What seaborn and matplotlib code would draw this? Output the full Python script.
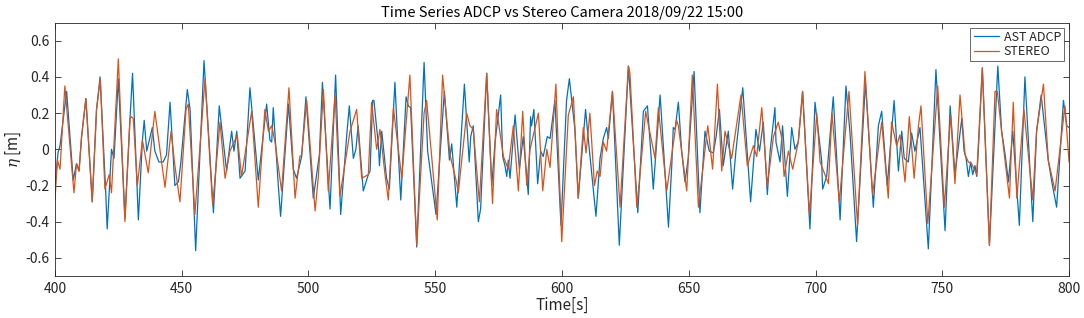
import numpy as np
import pandas as pd
import matplotlib
matplotlib.use("Agg")
import matplotlib.pyplot as plt
import seaborn as sns

# ADCP surface elevation (turning points)
adcp_t = [400.0, 401.2, 402.0, 404.6, 407.2, 408.5, 409.5, 410.5, 412.2, 414.7, 416.4, 417.8,
          420.0, 420.6, 422.3, 423.3, 425.0, 427.6, 429.6, 430.6, 432.9, 434.5, 435.2, 436.2,
          438.4, 439.4, 441.0, 442.7, 444.0, 445.4, 447.3, 448.7, 449.6, 452.2, 453.3, 455.5,
          458.8, 462.5, 464.8, 467.7, 469.7, 470.6, 471.7, 473.0, 475.0, 476.9, 480.2, 483.5,
          484.8, 485.5, 486.1, 488.1, 489.0, 492.1, 494.0, 495.3, 497.3, 499.0, 501.9, 504.3,
          505.5, 508.5, 510.7, 512.7, 515.1, 516.1, 517.7, 518.7, 519.6, 521.6, 523.6, 524.3,
          525.3, 525.8, 527.6, 528.0, 528.9, 530.8, 531.9, 534.1, 535.4, 536.4, 538.5, 539.4,
          540.3, 542.7, 545.6, 547.0, 550.3, 553.6, 555.6, 556.5, 558.5, 561.5, 563.4, 564.0,
          565.0, 567.0, 567.9, 570.3, 572.3, 573.6, 575.8, 576.6, 577.5, 578.2, 578.8, 579.5,
          581.5, 583.2, 584.7, 586.7, 587.6, 588.0, 588.9, 590.4, 591.6, 592.6, 594.2, 595.3,
          597.2, 599.6, 601.8, 602.9, 605.1, 606.4, 607.8, 609.3, 610.0, 613.4, 615.0, 616.3,
          617.6, 618.3, 619.9, 622.6, 626.2, 629.9, 632.1, 633.7, 635.4, 636.0, 638.7, 642.0,
          643.3, 643.9, 644.6, 645.9, 647.2, 648.5, 649.8, 652.1, 654.4, 656.4, 658.1, 659.7,
          660.8, 662.1, 663.6, 665.6, 667.3, 668.6, 671.3, 674.4, 676.5, 677.9, 679.4, 681.0,
          682.1, 684.0, 684.4, 686.0, 687.0, 688.9, 690.6, 691.9, 693.2, 694.9, 697.8, 699.8,
          702.4, 702.8, 704.4, 707.0, 709.7, 712.0, 713.6, 716.2, 719.7, 722.8, 724.8, 726.1,
          728.3, 731.0, 732.7, 734.0, 735.0, 736.6, 737.9, 739.2, 741.2, 744.5, 747.5, 751.1,
          753.1, 755.0, 757.7, 758.6, 759.4, 760.3, 761.2, 762.0, 762.9, 763.6, 764.2, 765.8,
          768.6, 771.9, 773.4, 774.8, 776.1, 777.8, 780.4, 782.6, 785.7, 787.2, 789.0, 791.8,
          793.2, 795.1, 797.8, 799.1, 800.0]
adcp_eta = [-0.20, -0.02, 0.02, 0.32, -0.17, -0.08, -0.12, 0.07, 0.28, -0.29, 0.22, 0.40,
            -0.23, -0.44, 0.00, -0.05, 0.39, -0.38, 0.17, 0.42, -0.39, 0.05, 0.16, -0.01,
            0.12, -0.01, -0.07, -0.07, -0.03, 0.26, -0.20, -0.18, -0.08, 0.33, 0.22, -0.56,
            0.49, -0.35, 0.24, -0.12, 0.10, -0.01, 0.10, -0.16, -0.12, 0.34, -0.17, 0.25,
            0.05, 0.04, 0.23, -0.20, -0.37, 0.25, -0.11, -0.16, -0.04, 0.29, -0.27, -0.03,
            0.37, -0.33, 0.41, -0.36, 0.08, 0.24, -0.05, 0.00, 0.13, -0.23, -0.14, -0.12,
            0.27, 0.27, 0.02, -0.09, 0.10, -0.16, -0.22, 0.37, -0.01, -0.28, 0.29, 0.24,
            0.23, -0.54, 0.48, -0.01, -0.36, 0.32, -0.06, 0.03, -0.32, 0.36, -0.07, 0.07,
            0.13, -0.40, -0.33, 0.42, -0.20, 0.04, 0.30, -0.04, -0.09, -0.15, -0.06, -0.16,
            0.19, -0.11, 0.07, -0.25, 0.18, 0.13, 0.22, -0.19, -0.01, -0.04, 0.07, 0.06,
            0.27, -0.42, 0.27, 0.39, 0.11, -0.27, -0.03, 0.22, 0.11, -0.37, -0.05, 0.06,
            0.12, 0.06, 0.32, -0.53, 0.46, -0.35, 0.21, 0.24, -0.09, -0.22, 0.30, -0.43,
            -0.09, 0.12, 0.11, 0.26, -0.01, -0.18, -0.05, 0.43, -0.35, 0.10, -0.01, -0.02,
            0.07, 0.22, -0.09, 0.10, -0.22, -0.01, 0.34, -0.29, 0.11, -0.01, 0.15, -0.25,
            -0.01, 0.23, 0.04, -0.07, 0.13, -0.26, 0.12, 0.00, 0.04, 0.32, -0.44, 0.26,
            -0.06, -0.22, -0.15, 0.29, -0.39, 0.35, 0.09, -0.51, 0.37, -0.32, 0.13, 0.21,
            -0.20, 0.27, -0.12, 0.10, -0.05, -0.07, 0.09, -0.01, 0.12, -0.55, 0.44, -0.45,
            0.24, -0.14, 0.17, -0.01, -0.05, -0.15, -0.07, -0.14, -0.09, -0.15, -0.01, 0.45,
            -0.53, 0.46, 0.10, -0.03, -0.18, 0.10, -0.42, 0.40, -0.40, 0.10, 0.30, -0.06,
            -0.18, -0.32, 0.27, 0.13, 0.12]

# stereo camera surface elevation
stereo_t = [400.0, 401.0, 402.0, 403.9, 407.5, 408.5, 409.5, 410.5, 412.2, 414.7, 416.4, 417.9,
            419.7, 421.4, 422.3, 425.0, 427.6, 429.6, 430.2, 430.9, 432.5, 434.5, 436.8, 439.4,
            440.8, 441.4, 443.4, 445.8, 447.3, 449.3, 451.7, 452.6, 455.2, 459.2, 462.2, 465.1,
            467.1, 469.0, 471.0, 471.9, 473.6, 477.6, 480.2, 482.8, 484.2, 485.5, 486.8, 489.4,
            492.3, 494.7, 496.6, 497.3, 499.3, 502.6, 503.9, 505.9, 507.8, 510.5, 512.4, 516.4,
            519.0, 521.0, 523.6, 524.9, 526.9, 528.2, 530.2, 531.5, 533.5, 536.8, 540.0, 542.7,
            545.6, 546.6, 547.7, 550.8, 552.9, 555.8, 558.2, 559.1, 562.4, 563.7, 565.0, 567.4,
            570.3, 572.6, 574.2, 576.9, 578.8, 580.8, 582.8, 584.5, 586.1, 587.4, 590.7, 592.4,
            594.0, 595.3, 597.6, 599.9, 602.5, 604.5, 606.4, 608.4, 609.5, 611.0, 612.8, 613.9,
            615.0, 616.3, 617.6, 619.9, 622.9, 626.2, 626.8, 629.5, 630.5, 633.0, 636.7, 638.0,
            641.3, 645.2, 645.9, 647.2, 649.2, 651.4, 653.8, 657.5, 658.4, 659.4, 661.3, 663.0,
            664.3, 666.9, 670.6, 673.1, 675.5, 676.8, 678.8, 681.0, 683.4, 685.3, 686.7, 687.6,
            689.3, 691.0, 693.2, 694.9, 697.6, 700.5, 701.8, 705.1, 706.5, 709.4, 713.2, 716.6,
            719.5, 722.5, 726.1, 728.7, 730.0, 732.0, 733.3, 735.3, 737.0, 738.9, 740.6, 741.6,
            744.3, 748.2, 750.8, 753.3, 755.0, 757.0, 759.0, 760.3, 761.6, 763.6, 765.8, 768.6,
            770.8, 771.7, 773.4, 776.5, 778.0, 779.4, 782.2, 785.7, 787.2, 789.9, 791.8, 794.5,
            798.4, 800.0]
stereo_eta = [-0.28, -0.06, -0.11, 0.35, -0.24, -0.08, -0.12, 0.07, 0.28, -0.29, 0.22, 0.39,
              -0.22, -0.14, -0.24, 0.50, -0.40, 0.17, 0.18, 0.17, -0.20, 0.05, -0.13, 0.21,
              0.06, 0.00, -0.21, 0.10, -0.09, -0.29, 0.22, 0.25, -0.36, 0.39, -0.31, 0.15,
              -0.16, -0.01, 0.05, 0.08, -0.15, 0.21, -0.32, 0.22, 0.10, 0.13, 0.04, -0.23,
              0.34, -0.27, -0.04, -0.03, 0.27, -0.34, -0.15, 0.33, -0.23, 0.30, -0.26, 0.10,
              0.22, -0.16, -0.14, 0.26, 0.00, 0.11, -0.14, -0.28, 0.23, -0.16, 0.41, -0.53,
              0.20, 0.27, 0.10, -0.39, 0.41, -0.03, -0.17, -0.24, 0.20, 0.13, 0.11, -0.29,
              0.42, -0.30, 0.22, -0.04, -0.11, 0.13, -0.23, 0.21, -0.20, 0.00, 0.20, -0.23,
              0.00, -0.10, 0.36, -0.51, 0.19, 0.29, -0.27, 0.12, -0.02, 0.20, -0.20, -0.12,
              -0.15, 0.04, -0.01, 0.32, -0.32, 0.46, 0.42, -0.32, -0.18, 0.21, -0.05, 0.23,
              -0.23, 0.16, 0.13, -0.01, -0.23, 0.41, -0.32, 0.13, 0.02, -0.11, 0.36, -0.12,
              0.10, -0.05, 0.30, -0.09, 0.02, -0.04, 0.23, -0.20, 0.07, 0.15, 0.06, -0.15,
              -0.01, -0.11, 0.04, 0.32, -0.36, 0.20, -0.07, -0.19, 0.20, -0.29, 0.32, -0.42,
              0.43, -0.25, 0.15, -0.27, 0.15, 0.02, 0.08, -0.18, 0.18, -0.16, 0.13, 0.24,
              -0.41, 0.35, -0.32, 0.19, -0.19, 0.30, -0.03, -0.07, -0.08, -0.14, 0.45, -0.53,
              0.32, 0.32, 0.10, -0.27, 0.26, -0.27, 0.22, -0.28, 0.10, 0.36, -0.06, -0.23,
              0.24, -0.07]

adcp = pd.DataFrame({"time": adcp_t, "eta": adcp_eta})
stereo = pd.DataFrame({"time": stereo_t, "eta": stereo_eta})

sns.set_theme(style="ticks")
plt.rcParams["font.family"] = ["Noto Sans CJK JP", "DejaVu Sans"]
plt.rcParams["axes.unicode_minus"] = False
plt.rcParams["mathtext.fontset"] = "dejavuserif"

fig = plt.figure(figsize=(10.84, 3.18), dpi=100)
ax = fig.add_axes([0.0507, 0.132, 0.9355, 0.797])

sns.lineplot(data=adcp, x="time", y="eta", ax=ax, color="#0072BD", linewidth=0.9, label="AST ADCP")
sns.lineplot(data=stereo, x="time", y="eta", ax=ax, color="#D95319", linewidth=0.9, label="STEREO")

ax.set_xlim(400, 800)
ax.set_ylim(-0.7, 0.7)
ax.set_xticks(np.arange(400, 801, 50))
ax.set_yticks(np.arange(-0.6, 0.61, 0.2))
ax.set_yticklabels(["-0.6", "-0.4", "-0.2", "0", "0.2", "0.4", "0.6"])
ax.tick_params(direction="in", top=True, right=True, length=4, width=0.6,
               labelsize=10, colors="#262626", pad=4)
for s in ax.spines.values():
    s.set_color("#262626")
    s.set_linewidth(0.6)

ax.set_xlabel("Time[s]", fontsize=11, color="#262626", labelpad=1)
ax.set_ylabel(r"$\eta$ [m]", fontsize=11, color="#262626", labelpad=2)
ax.set_title("Time Series ADCP vs Stereo Camera 2018/09/22 15:00", fontsize=10.5,
             color="black", pad=4)

leg = ax.legend(loc="upper right", fontsize=9, frameon=True, fancybox=False,
                handlelength=2.0, borderaxespad=0.4, borderpad=0.25, labelspacing=0.1,
                handletextpad=0.4)
leg.get_frame().set_edgecolor("#262626")
leg.get_frame().set_linewidth(0.6)

fig.savefig("out.png", dpi=100)
